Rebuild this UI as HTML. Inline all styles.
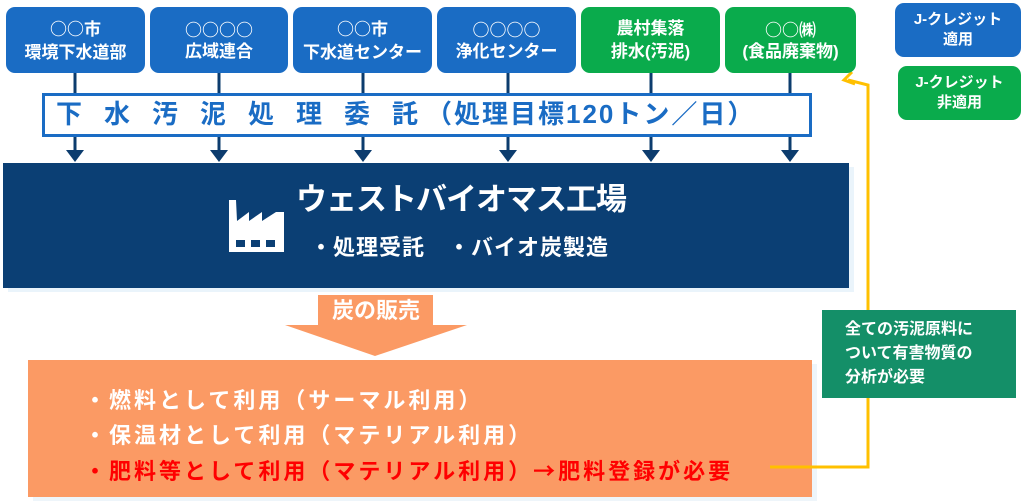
<!DOCTYPE html>
<html><head><meta charset="utf-8"><style>
body{margin:0;width:1024px;height:501px;background:#fff;position:relative;overflow:hidden;font-family:"Liberation Sans","Noto Sans CJK JP",sans-serif;font-weight:bold}
.b{position:absolute;border-radius:9px;color:#fff;text-align:center;font-size:17px;line-height:23px;display:flex;align-items:center;justify-content:center;flex-direction:column}
.bl{background:#1a6cc4}.gr{background:#0aab4c}
.t{position:absolute;white-space:nowrap}
.c{font-family:"Noto Sans CJK JP",sans-serif}
</style></head><body>
<svg style="position:absolute;left:0;top:0" width="1024" height="501">
<g stroke="#0c3c6e" stroke-width="3" fill="#0c3c6e">
<line x1="75" y1="72" x2="75" y2="150"/><line x1="219" y1="72" x2="219" y2="150"/><line x1="363" y1="72" x2="363" y2="150"/><line x1="508" y1="72" x2="508" y2="150"/><line x1="651" y1="72" x2="651" y2="150"/><line x1="790" y1="72" x2="790" y2="150"/>
</g>
<g fill="#0c3c6e">
<polygon points="66,150 84,150 75,162"/><polygon points="210,150 228,150 219,162"/><polygon points="354,150 372,150 363,162"/><polygon points="499,150 517,150 508,162"/><polygon points="642,150 660,150 651,162"/><polygon points="781,150 799,150 790,162"/>
</g>
<rect x="8" y="167" width="846" height="125" fill="#eaf4fb"/>
<rect x="3" y="163" width="846" height="125" fill="#0b3f74"/>
<g fill="#fff"><polygon points="229,200 236,200 237,221 249,212 249,221 262,212 262,221 276,212 284,212 284,252 229,252"/></g>
<g fill="#0b3f74"><rect x="236" y="240" width="9" height="7"/><rect x="251" y="240" width="9" height="7"/><rect x="266" y="240" width="9" height="7"/></g>
<polygon points="318,295 433,295 433,325 467,325 375,356 285,325 318,325" fill="#fb9a64"/>
<rect x="33" y="364" width="784" height="137" fill="#eef5fa"/>
<rect x="28" y="360" width="784" height="137" fill="#fb9a64"/>
<polyline points="770,467 868,467 868,85 848,80" fill="none" stroke="#ffc000" stroke-width="3"/>
<polyline points="852,72 844,80 855,84" fill="none" stroke="#ffc000" stroke-width="3"/>
<rect x="822" y="310" width="194" height="88" fill="#148f68"/>
</svg>
<div class="b bl" style="left:6px;top:7px;width:139px;height:66px"><span><span class="c">○○</span>市</span>環境下水道部</div>
<div class="b bl" style="left:150px;top:7px;width:138px;height:66px"><span class="c">○○○○</span>広域連合</div>
<div class="b bl" style="left:293px;top:7px;width:139px;height:66px"><span><span class="c">○○</span>市</span>下水道センター</div>
<div class="b bl" style="left:437px;top:7px;width:139px;height:66px"><span class="c">○○○○</span>浄化センター</div>
<div class="b gr" style="left:581px;top:7px;width:139px;height:66px">農村集落<br>排水(汚泥)</div>
<div class="b gr" style="left:725px;top:7px;width:131px;height:66px"><span class="c">○○㈱</span>(食品廃棄物)</div>
<div class="b bl" style="left:895px;top:3px;width:126px;height:54px;font-size:15px;line-height:20px">J-クレジット<br>適用</div>
<div class="b gr" style="left:898px;top:66px;width:123px;height:54px;font-size:15px;line-height:20px">J-クレジット<br>非適用</div>
<div style="position:absolute;left:42px;top:93px;width:764px;height:38px;border:3px solid #1a6cc4;background:#fff"></div>
<div class="t" style="left:56px;top:96px;font-size:26px;line-height:36px;color:#1a6cc4;letter-spacing:22px">下水汚泥処理委託<span style="letter-spacing:2px;margin-left:-14px">（処理目標120トン／日）</span></div>
<div class="t" style="left:296px;top:180px;font-size:31px;line-height:40px;color:#fff;letter-spacing:-1px">ウェストバイオマス工場</div>
<div class="t" style="left:310px;top:232px;font-size:22px;line-height:32px;color:#fff;letter-spacing:1px">・処理受託　・バイオ炭製造</div>
<div class="t" style="left:330px;top:296px;width:92px;text-align:center;font-size:22px;line-height:30px;color:#fff">炭の販売</div>
<div class="t" style="left:84px;top:383px;font-size:22px;line-height:35px;color:#fff;letter-spacing:3px">・燃料として利用（サーマル利用）<br>・保温材として利用（マテリアル利用）<br><span style="color:#f00">・肥料等として利用（マテリアル利用）<span class="c">→</span>肥料登録が必要</span></div>
<div class="t" style="left:845px;top:318px;font-size:16px;line-height:24px;color:#fff">全ての汚泥原料に<br>ついて有害物質の<br>分析が必要</div>
</body></html>
